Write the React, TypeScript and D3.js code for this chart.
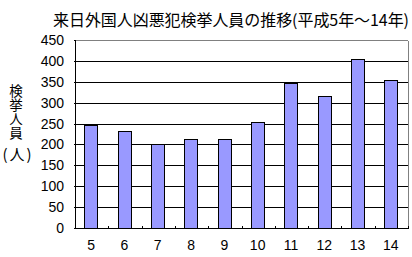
import React from "react";
import * as d3 from "d3";

const categories = ["5", "6", "7", "8", "9", "10", "11", "12", "13", "14"];
const values = [246, 231, 202, 212, 212, 253, 346, 317, 405, 355];
const yTicks = [0, 50, 100, 150, 200, 250, 300, 350, 400, 450];
const title = "来日外国人凶悪犯検挙人員の推移(平成5年～14年)";
const yLabel = "検挙人員";
const yLabelUnit = "(人)";

export default function App() {
  const W = 412, H = 257;
  const left = 75, right = 408, top = 40, bottom = 228;
  const x = d3.scaleBand<string>().domain(categories).range([left, right]).padding(0);
  const bw = 12.8;
  const y = d3.scaleLinear().domain([0, 450]).range([bottom, top]);
  const px = (v: number) => Math.round(v) + 0.5;
  const numFont = "'Liberation Sans', Arial, sans-serif";
  const jpFont = "'Noto Sans CJK JP', sans-serif";
  return (
    <svg width={W} height={H} style={{ position: "absolute", left: 0, top: 0, background: "#fff" }}>
      <rect x={0} y={0} width={W} height={H} fill="#fff" />
      <text x={53} y={26} textAnchor="start" fontFamily={jpFont} fontSize={16} fill="#000"
        textLength={356} lengthAdjust="spacing">{title}</text>
      {/* gridlines */}
      {yTicks.filter(t => t > 0).map(t => (
        <line key={t} x1={left} x2={right} y1={px(y(t))} y2={px(y(t))}
          stroke={t === 450 ? "#808080" : "#000"} strokeWidth={1} shapeRendering="crispEdges" />
      ))}
      <line x1={px(right)} x2={px(right)} y1={px(y(450))} y2={px(bottom)} stroke="#808080" strokeWidth={1} shapeRendering="crispEdges" />
      {/* bars */}
      {categories.map((c, i) => {
        const cx = (x(c) as number) + x.bandwidth() / 2 - 0.8;
        return (
          <rect key={c} x={Math.round(cx - bw / 2) + 0.5} y={px(y(values[i]))}
            width={Math.round(bw)} height={px(bottom) - px(y(values[i]))}
            fill="#9999FF" stroke="#000" strokeWidth={1} shapeRendering="crispEdges" />
        );
      })}
      {/* axes */}
      <line x1={px(left)} x2={px(left)} y1={px(top)} y2={px(bottom)} stroke="#000" shapeRendering="crispEdges" />
      <line x1={px(left)} x2={px(right)} y1={px(bottom)} y2={px(bottom)} stroke="#000" shapeRendering="crispEdges" />
      {yTicks.map(t => (
        <g key={t}>
          <line x1={px(left) - 2} x2={px(left)} y1={px(y(t))} y2={px(y(t))} stroke="#000" shapeRendering="crispEdges" />
          <text x={64} y={y(t) + 5} textAnchor="end" fontFamily={numFont} fontSize={14} fill="#000">{t}</text>
        </g>
      ))}
      {categories.map((c) => (
        <g key={c}>
          <line x1={px((x(c) as number) + x.bandwidth())} x2={px((x(c) as number) + x.bandwidth())}
            y1={px(bottom) - 3} y2={px(bottom)} stroke="#000" shapeRendering="crispEdges" />
          <text x={(x(c) as number) + x.bandwidth() / 2 - 0.5} y={250} textAnchor="middle" fontFamily={numFont} fontSize={14} fill="#000">{c}</text>
        </g>
      ))}
      {/* y label */}
      <text x={16} y={84} fontFamily={jpFont} fontSize={13.5} fill="#000"
        style={{ writingMode: "vertical-rl" as any, letterSpacing: "0.5px" }}>{yLabel}</text>
      <text x={18} y={160} textAnchor="middle" fontFamily={jpFont} fontSize={15} fill="#000"
        style={{ letterSpacing: "2px" }}>{yLabelUnit}</text>
    </svg>
  );
}
